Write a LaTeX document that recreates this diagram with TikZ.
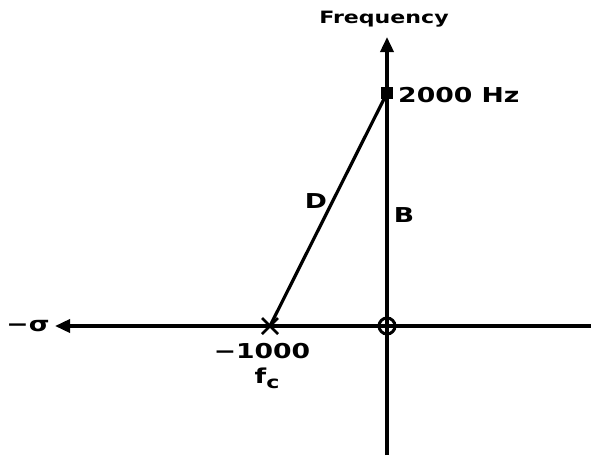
\documentclass[tikz,border=0pt]{standalone}
\usepackage{fontspec}
\usetikzlibrary{arrows.meta}
\newfontfamily\lblfont{DejaVu Sans Bold}[FakeStretch=1.3]
\begin{document}
\begin{tikzpicture}[x=1pt,y=-1pt,
  axis/.style={line width=3.5pt,-{Triangle[length=15pt,width=13pt]}},
  lbl/.style={font=\lblfont\fontsize{20.5}{22}\selectfont,inner sep=0pt},
  lbls/.style={font=\lblfont\fontsize{17}{19}\selectfont,inner sep=0pt}]
\useasboundingbox (0,0) rectangle (591,455);
\coordinate (xr) at (591,326);
\coordinate (xl) at (55,326);
\coordinate (yb) at (387,455);
\coordinate (yt) at (387,37);
\coordinate (o) at (387,326);
\coordinate (p) at (270,326);
\coordinate (z) at (387,93);
\draw[axis] (xr) -- (xl);
\draw[axis] (yb) -- (yt);
\draw[line width=3.2pt] (p) -- (z);
\node[fill=black,minimum size=12pt,inner sep=0pt] (zm) at (z) {};
\draw[line width=3pt] (o) circle (8);
\draw[line width=2.6pt] (262,318) -- (278,334) (262,334) -- (278,318);
\node[lbls] (freq) at (384,19) {Frequency};
\node[lbl,anchor=west] (hz) at (398,95) {2000 Hz};
\node[lbl] (d) at (316,201) {D};
\node[lbl] (b) at (404,215) {B};
\node[lbl] (n) at (262,351) {−1000};
\node[lbl] (fc) at (267,378) {f\raisebox{-5pt}{\fontsize{17}{19}\selectfont c}};
\node[lbl] (s) at (28,326) {−σ};
\end{tikzpicture}
\end{document}
